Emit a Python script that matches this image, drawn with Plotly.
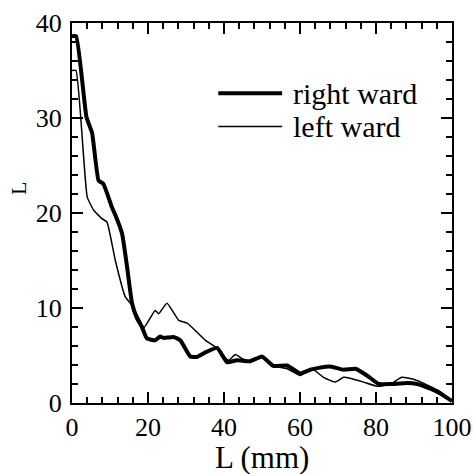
import plotly.graph_objects as go

# Profile along L for the two wards
right_x = [0, 1.1, 3.8, 5.3, 7.0, 8.2, 9.3, 10.5, 11.4, 13.2, 14.5, 15.8, 17.0, 18.4,
           19.7, 21.9, 23.2, 24.1, 26.7, 28.5, 31.1, 32.9, 35.5, 38.2, 40.8, 43.4,
           46.9, 50.0, 53.0, 56.6, 60.1, 62.7, 64.9, 68.0, 71.5, 74.6, 77.6, 80.7,
           83.8, 88.2, 90.8, 94.3, 96.9, 100]
right_y = [38.6, 38.6, 30.1, 28.4, 23.4, 23.1, 22.0, 20.6, 19.8, 17.8, 14.3, 10.5, 9.0, 8.0,
           6.8, 6.6, 7.0, 6.85, 6.95, 6.6, 4.9, 4.85, 5.4, 5.8, 4.3, 4.5,
           4.4, 4.9, 3.9, 3.95, 3.1, 3.5, 3.7, 3.85, 3.5, 3.6, 2.9, 2.0,
           2.0, 2.1, 2.0, 1.5, 1.0, 0.2]

left_x = [0, 1.05, 4.0, 5.7, 7.9, 9.2, 11.4, 14.0, 15.8, 18.0, 18.9, 21.9, 22.8, 25.0,
          28.1, 30.3, 32.4, 35.1, 37.7, 39.9, 41.2, 43.0, 44.7, 46.9, 50.0, 53.0,
          56.6, 60.1, 61.8, 63.2, 66.2, 69.3, 71.5, 73.2, 76.7, 80.3, 83.8, 86.8,
          89.9, 93.4, 96.9, 100]
left_y = [35.0, 35.0, 21.7, 20.3, 19.4, 19.05, 15.0, 11.2, 10.3, 8.6, 7.9, 9.75, 9.4, 10.5,
          8.7, 8.4, 7.65, 6.6, 5.9, 4.85, 4.5, 5.1, 4.7, 4.4, 4.8, 3.9,
          3.6, 2.9, 3.4, 3.6, 2.7, 2.2, 2.7, 2.6, 2.2, 1.76, 2.0, 2.7,
          2.5, 1.9, 1.2, 0.2]

series_names = ["right ward", "left ward"]
series_widths = [4, 1.5]

FONT = "Liberation Serif"

fig = go.Figure()
for xs, ys, name, w in [(right_x, right_y, series_names[0], series_widths[0]),
                        (left_x, left_y, series_names[1], series_widths[1])]:
    fig.add_trace(go.Scatter(x=xs, y=ys, mode="lines", name=name,
                             line=dict(color="black", width=w, shape="spline", smoothing=0.4),
                             showlegend=False))

# Hand-placed legend: sample line + label
legend_rows = [(32.6, series_names[0], series_widths[0]),
               (29.1, series_names[1], series_widths[1])]
for y, name, w in legend_rows:
    fig.add_shape(type="line", xref="x", yref="y", x0=38.5, x1=55.3, y0=y, y1=y,
                  line=dict(color="black", width=w))
    fig.add_annotation(x=57.6, y=y, xref="x", yref="y", text=name, showarrow=False,
                       xanchor="left", yanchor="middle",
                       font=dict(family=FONT, size=30, color="black"))

# Y-axis title
fig.add_annotation(x=-0.14, y=22.6, xref="paper", yref="y", text="L", showarrow=False,
                   textangle=-90, xanchor="center", yanchor="middle",
                   font=dict(family=FONT, size=22, color="black"))

# X-axis title, placed just under the tick labels
fig.add_annotation(x=0.5, y=0, xref="paper", yref="paper", yshift=-74,
                   text="L (mm)", showarrow=False, xanchor="center", yanchor="bottom",
                   font=dict(family=FONT, size=31, color="black"))

axis_common = dict(showline=True, linewidth=2, linecolor="black", mirror="ticks",
                   ticks="inside", ticklen=11, tickwidth=1.5, tickcolor="black",
                   showgrid=False, zeroline=False, automargin=False,
                   tickfont=dict(family=FONT, size=26, color="black"))

fig.update_xaxes(range=[0, 100], dtick=20, tick0=0,
                 minor=dict(dtick=4, ticklen=6, ticks="inside", tickcolor="black", tickwidth=1.5),
                 **axis_common)
fig.update_yaxes(range=[0, 40], dtick=10, tick0=0, ticklabelstandoff=3,
                 minor=dict(dtick=2, ticklen=6, ticks="inside", tickcolor="black", tickwidth=1.5),
                 **axis_common)

fig.update_layout(width=473, height=474,
                  margin=dict(l=72, r=21, t=23, b=71),
                  plot_bgcolor="white", paper_bgcolor="white",
                  font=dict(family=FONT, color="black"))

fig.write_html("out.html")
